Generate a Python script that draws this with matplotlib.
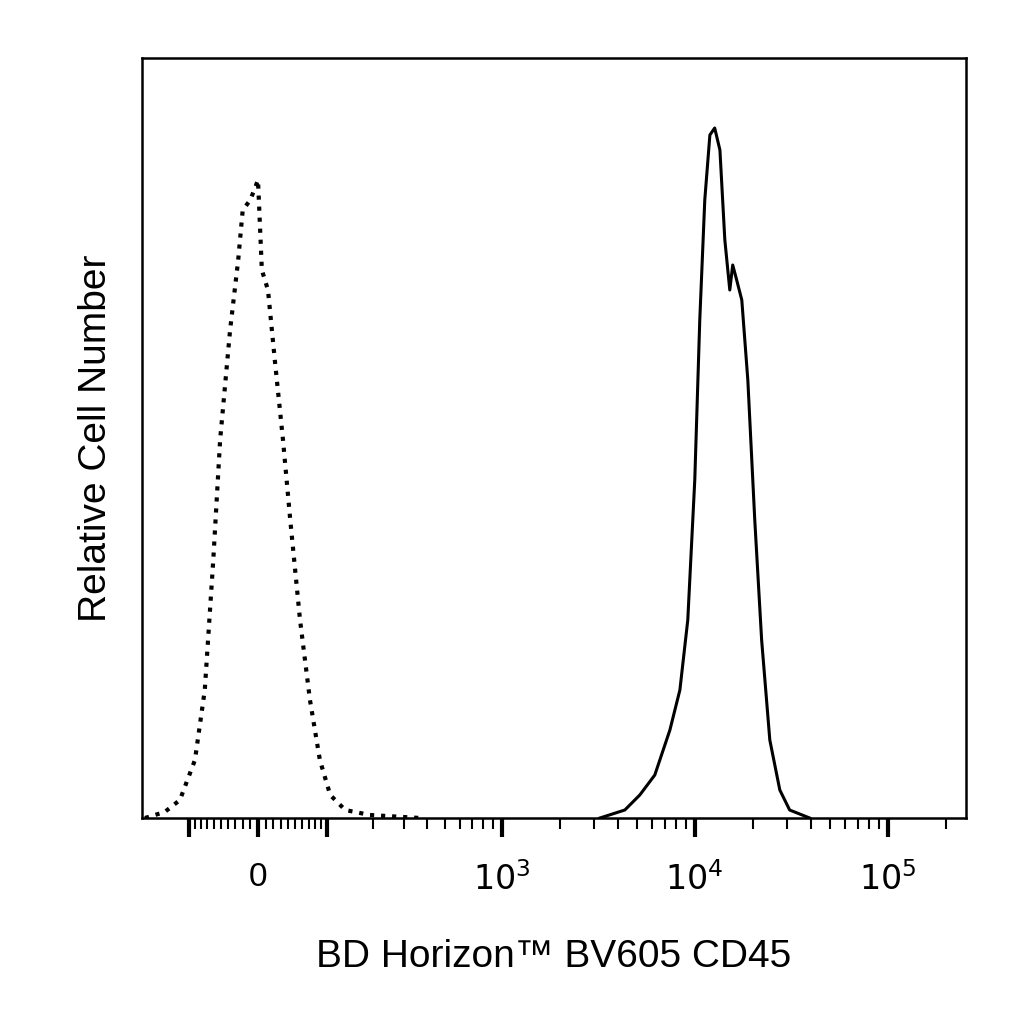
import numpy as np
import matplotlib.pyplot as plt
from matplotlib.ticker import FixedLocator, NullFormatter

plt.rcParams['font.family'] = ['Liberation Sans', 'DejaVu Sans']

# isotype control (dotted)
ctrl_x = [-196, -148, -117, -90, -74, -61, -51, -37, -26, -20, -10, 0, 5, 13, 22, 33,
          43, 57, 72, 88, 106, 135, 193, 370]
ctrl_y = [0, 6, 18, 58, 128, 258, 378, 488, 558, 608, 618, 638, 548, 528, 458, 378,
          298, 198, 118, 58, 23, 8, 3, 0]

# CD45 stained (solid)
cd45_x = [3226, 4344, 5194, 6213, 7440, 8382, 9210, 10012, 10628, 11282, 11990, 12700,
          13516, 14334, 15206, 15750, 16510, 17550, 18860, 20490, 22240, 24520, 27630,
          31070, 39460]
cd45_y = [0, 8, 23, 43, 88, 128, 198, 338, 498, 618, 683, 690, 668, 578, 528, 553,
          538, 518, 438, 298, 178, 78, 28, 8, 0]

C = 109.0


def fwd(x):
    return np.arcsinh(np.asarray(x, dtype=float) / C)


def inv(y):
    return C * np.sinh(y)


fig = plt.figure(figsize=(10.24, 10.24), dpi=100)
ax = fig.add_axes([142 / 1024, 206 / 1024, 824 / 1024, 760 / 1024])
ax.set_xscale('function', functions=(fwd, inv))

ax.plot(ctrl_x, ctrl_y, color='black', linestyle=':', linewidth=3)
ax.plot(cd45_x, cd45_y, color='black', linewidth=2.2)

ax.set_xlim(-204, 255000)
ax.set_ylim(0, 760)
ax.set_yticks([])

major = [-100, 0, 100, 1000, 10000, 100000]
ax.xaxis.set_major_locator(FixedLocator(major))
ax.set_xticklabels(['', '0', '', r'$10^3$', r'$10^4$', r'$10^5$'], fontsize=24)
minor = list(range(-90, 100, 10)) + list(range(200, 1000, 100)) + \
    list(range(2000, 10000, 1000)) + list(range(20000, 100000, 10000)) + [200000]
ax.xaxis.set_minor_locator(FixedLocator(minor))
ax.xaxis.set_minor_formatter(NullFormatter())
ax.tick_params(axis='x', which='major', direction='out', length=14, width=3, pad=18)
ax.tick_params(axis='x', which='minor', direction='out', length=8, width=1.5)
for s in ax.spines.values():
    s.set_linewidth(1.8)

ax.set_xlabel('BD Horizon™ BV605 CD45', fontsize=28, labelpad=30)
ax.set_ylabel('Relative Cell Number', fontsize=28, labelpad=20)

plt.savefig('out.png', dpi=100)
